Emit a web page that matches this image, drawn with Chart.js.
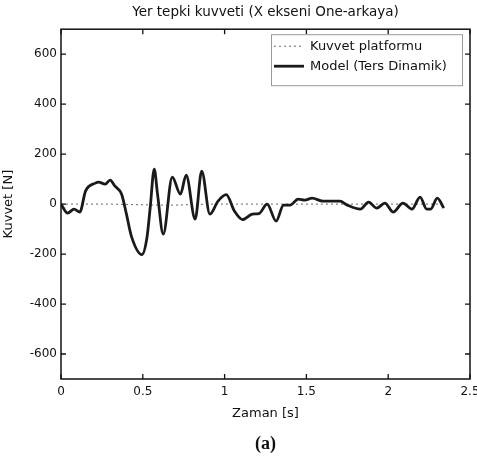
<!DOCTYPE html>
<html><head><meta charset="utf-8">
<script src="https://cdn.jsdelivr.net/npm/chart.js@4/dist/chart.umd.min.js"></script>
<style>html,body{margin:0;padding:0;background:#fff;}#wrap{width:477px;height:461px;}</style>
</head><body><div id="wrap"><canvas id="c" width="477" height="461"></canvas></div>
<script>
const titleText = 'Yer tepki kuvveti (X ekseni One-arkaya)';
const xTitle = 'Zaman [s]';
const yTitle = 'Kuvvet [N]';
const captionText = '(a)';
const seriesLabels = ['Kuvvet platformu', 'Model (Ters Dinamik)'];
const xTicks = [0, 0.5, 1, 1.5, 2, 2.5];
const yTicks = [-600, -400, -200, 0, 200, 400, 600];

const modelTime = [0, 0.04, 0.08, 0.115, 0.15, 0.21, 0.23, 0.27, 0.30, 0.33, 0.37, 0.40, 0.43, 0.495, 0.525, 0.545, 0.57, 0.59, 0.625, 0.68, 0.73, 0.765, 0.82, 0.86, 0.91, 0.96, 1.01, 1.06, 1.11, 1.17, 1.21, 1.26, 1.315, 1.36, 1.40, 1.45, 1.49, 1.535, 1.60, 1.705, 1.75, 1.83, 1.88, 1.93, 1.98, 2.03, 2.09, 2.145, 2.195, 2.235, 2.26, 2.30, 2.34];
const modelForce = [0, -36, -20, -32, 52, 84, 88, 80, 96, 72, 40, -40, -128, -202, -136, -16, 140, 40, -120, 108, 40, 116, -60, 132, -40, 12, 38, -28, -62, -40, -38, 0, -68, -4, -4, 20, 16, 24, 12, 12, -4, -20, 8, -16, 4, -32, 4, -20, 28, -20, -20, 24, -16];

const platformTime = [0, 0.1, 0.3, 0.6, 0.7, 0.9, 1.0, 1.2, 1.4, 1.6, 2.0, 2.34];
const platformForce = [0, 0, 0, -4, -4, 0, 0, 0, 0, 0, 0, 0];

Chart.defaults.font.family = 'DejaVu Sans';
Chart.defaults.color = '#111';

const TICK = 5;
const framePlugin = {
  id: 'frame',
  afterDatasetsDraw(chart) {
    const {ctx, chartArea: a, scales} = chart;
    ctx.save();
    ctx.strokeStyle = '#111';
    ctx.lineWidth = 1.5;
    ctx.strokeRect(a.left, a.top, a.right - a.left, a.bottom - a.top);
    ctx.lineWidth = 1.3;
    ctx.beginPath();
    xTicks.forEach(v => {
      const px = scales.x.getPixelForValue(v);
      ctx.moveTo(px, a.bottom); ctx.lineTo(px, a.bottom - TICK);
      ctx.moveTo(px, a.top); ctx.lineTo(px, a.top + TICK);
    });
    yTicks.forEach(v => {
      const py = scales.y.getPixelForValue(v);
      ctx.moveTo(a.left, py); ctx.lineTo(a.left + TICK, py);
      ctx.moveTo(a.right, py); ctx.lineTo(a.right - TICK, py);
    });
    ctx.stroke();
    ctx.restore();
  }
};

const legendPlugin = {
  id: 'innerLegend',
  afterDraw(chart) {
    const {ctx, chartArea: a} = chart;
    const w = 191, h = 51;
    const left = a.right - 8 - w, top = a.top + 5;
    ctx.save();
    ctx.fillStyle = '#fff';
    ctx.fillRect(left, top, w, h);
    ctx.strokeStyle = '#999';
    ctx.lineWidth = 1;
    ctx.strokeRect(left + 0.5, top + 0.5, w, h);
    ctx.font = '13px "DejaVu Sans"';
    ctx.textBaseline = 'middle';
    ctx.fillStyle = '#111';
    chart.data.datasets.forEach((ds, i) => {
      const y = top + 12 + i * 20;
      ctx.save();
      ctx.strokeStyle = ds.borderColor;
      ctx.lineWidth = ds.borderWidth;
      ctx.setLineDash(ds.borderDash || []);
      ctx.beginPath();
      ctx.moveTo(left + 3, y); ctx.lineTo(left + 33, y);
      ctx.stroke();
      ctx.restore();
      ctx.fillText(ds.label, left + 39, y);
    });
    ctx.restore();
  }
};

new Chart(document.getElementById('c'), {
  type: 'line',
  data: {
    datasets: [
      {
        label: seriesLabels[0],
        data: platformTime.map((t, i) => ({x: t, y: platformForce[i]})),
        borderColor: '#666', borderWidth: 1, borderDash: [2, 3],
        pointRadius: 0, fill: false, order: 2
      },
      {
        label: seriesLabels[1],
        data: modelTime.map((t, i) => ({x: t, y: modelForce[i]})),
        borderColor: '#1a1a1a', borderWidth: 2.8,
        pointRadius: 0, fill: false, cubicInterpolationMode: 'monotone', order: 1
      }
    ]
  },
  options: {
    responsive: false, animation: false, devicePixelRatio: 1,
    layout: {padding: {left: 0, right: 7, top: 0, bottom: 0}},
    plugins: {
      legend: {display: false},
      tooltip: {enabled: false},
      title: {display: true, text: titleText, fullSize: false, color: '#111',
        font: {size: 13.5, weight: 'normal'}, padding: {top: 4, bottom: 9}},
      subtitle: {display: true, text: captionText, position: 'bottom', fullSize: false, color: '#111',
        font: {family: 'Liberation Serif', size: 18, weight: 'bold'}, padding: {top: 13, bottom: 5.4}}
    },
    scales: {
      x: {
        type: 'linear', min: 0, max: 2.5,
        grid: {display: false, drawTicks: false}, border: {display: false},
        ticks: {padding: 6, font: {size: 12}, autoSkip: false, maxRotation: 0, color: '#111',
          callback: v => String(v)},
        afterBuildTicks: s => { s.ticks = xTicks.map(v => ({value: v})); },
        afterFit: s => { s.paddingLeft = 0; s.paddingRight = 0; },
        title: {display: true, text: xTitle, font: {size: 13}, color: '#111', padding: {top: 0, bottom: 0}}
      },
      y: {
        type: 'linear', min: -700, max: 700,
        grid: {display: false, drawTicks: false}, border: {display: false},
        ticks: {padding: 4, font: {size: 12}, color: '#111', callback: v => String(v)},
        afterBuildTicks: s => { s.ticks = yTicks.map(v => ({value: v})); },
        afterFit: s => { s.width = 61; s.paddingTop = 0; s.paddingBottom = 0; },
        title: {display: true, text: yTitle, font: {size: 13}, color: '#111', padding: {top: 1, bottom: 0}}
      }
    }
  },
  plugins: [framePlugin, legendPlugin]
});
</script>
</body></html>
